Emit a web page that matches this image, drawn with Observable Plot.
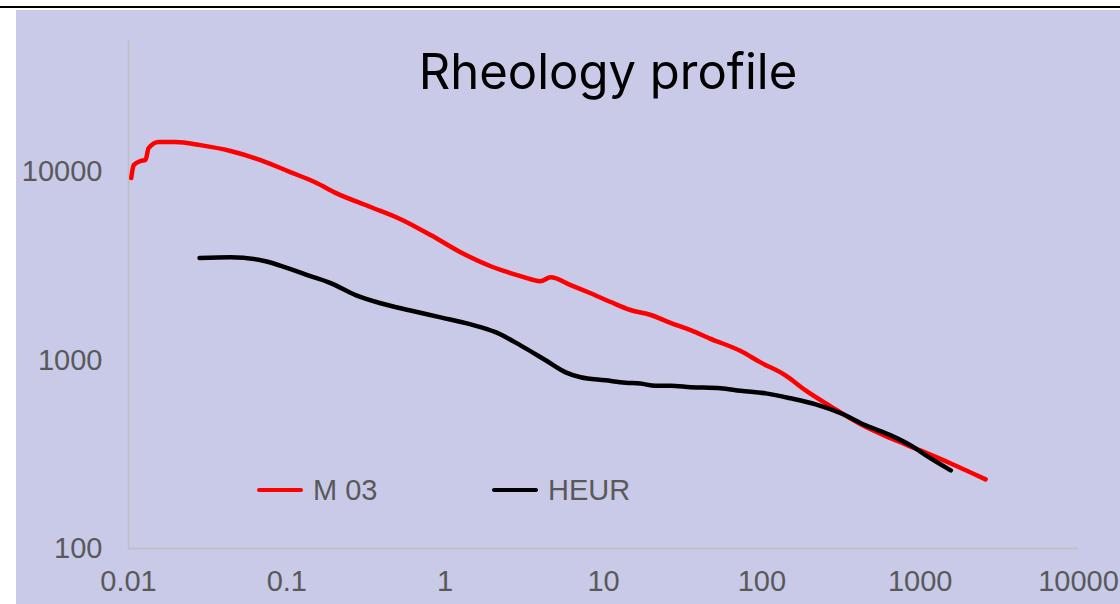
<!DOCTYPE html>
<html>
<head>
<meta charset="utf-8">
<script src="https://cdn.jsdelivr.net/npm/d3@7"></script>
<script src="https://cdn.jsdelivr.net/npm/@observablehq/plot@0.6"></script>
<style>
  html, body { margin: 0; padding: 0; background: #ffffff; width: 1120px; height: 604px; overflow: hidden; }
  #topline { position: absolute; left: 0; top: 6px; width: 1120px; height: 2px; background: #000; }
  #panel { position: absolute; left: 16px; top: 10px; width: 1104px; height: 594px; background: #C9CAE8; }
  #chart { position: absolute; left: 0; top: 0; }
  #title { position: absolute; left: 0; width: 1216px; top: 42px; text-align: center; font-family: Inter, "Open Sans", sans-serif; font-size: 49px; color: #000; }
  .leg { position: absolute; top: 472px; font-family: "Liberation Sans", Arial, sans-serif; font-size: 29px; color: #595959; display: flex; align-items: center; height: 36px; }
  .leg span.sw { display: inline-block; width: 46px; height: 4px; border-radius: 2px; margin-right: 10px; }
</style>
</head>
<body>
<div id="topline"></div>
<div id="panel"></div>
<div id="chart"></div>
<div id="title">Rheology profile</div>
<div class="leg" style="left:257px"><span class="sw" style="background:#FF0000"></span>M 03</div>
<div class="leg" style="left:492px"><span class="sw" style="background:#000000"></span>HEUR</div>
<script>
// Series names
const seriesNames = ["M 03", "HEUR"];

// M 03 (red): shear rate, viscosity
const m03X = [0.0104, 0.0108, 0.0119, 0.0128, 0.0134, 0.0155, 0.0198, 0.0285, 0.0441, 0.0682, 0.105, 0.152, 0.203, 0.338, 0.523, 0.809, 1.25, 1.94, 2.99, 4.0, 4.63, 6.2, 8.3, 11.1, 14.8, 19.9, 26.5, 35.5, 47.5, 73.5, 98, 141, 189, 272, 421, 652, 1000, 1560, 2590];
const m03Y = [9290, 10900, 11450, 11600, 13400, 14450, 14450, 13900, 12940, 11580, 10000, 8800, 7750, 6520, 5620, 4630, 3750, 3160, 2800, 2630, 2760, 2510, 2270, 2040, 1850, 1740, 1580, 1445, 1300, 1120, 975, 832, 692, 569, 457, 385, 332, 283, 233];

// HEUR (black)
const heurX = [0.0281, 0.0441, 0.0733, 0.098, 0.141, 0.189, 0.272, 0.391, 0.604, 0.935, 1.45, 2.08, 2.99, 4.31, 5.77, 7.17, 10.3, 13.8, 17.1, 21.3, 26.5, 35.5, 54.9, 73.5, 106, 152, 219, 315, 453, 652, 871, 1165, 1560];
const heurY = [3490, 3530, 3360, 3120, 2800, 2570, 2220, 2010, 1840, 1690, 1550, 1410, 1200, 1000, 863, 812, 783, 760, 752, 732, 732, 720, 710, 688, 667, 628, 583, 523, 451, 399, 353, 301, 260];

// Axis ticks
const xTicks = [0.01, 0.1, 1, 10, 100, 1000, 10000];
const xTickLabels = ["0.01", "0.1", "1", "10", "100", "1000", "10000"];
const yTicks = [100, 1000, 10000];
const yTickLabels = ["100", "1000", "10000"];

const m03 = m03X.map((x, i) => ({x, y: m03Y[i], s: seriesNames[0]}));
const heur = heurX.map((x, i) => ({x, y: heurY[i], s: seriesNames[1]}));

const plot = Plot.plot({
  width: 1120,
  height: 604,
  marginLeft: 128,
  marginRight: 42,
  marginTop: 40,
  marginBottom: 56,
  style: {background: "transparent", fontFamily: "'Liberation Sans', Arial, sans-serif", fontSize: "29px", color: "#595959", overflow: "visible"},
  x: {type: "log", domain: [0.01, 10000]},
  y: {type: "log", domain: [100, 50000]},
  marks: [
    Plot.ruleX([0.01], {y1: 100, y2: 50000, stroke: "#BFBFBF", strokeWidth: 1.5}),
    Plot.ruleY([100], {x1: 0.01, x2: 10000, stroke: "#BFBFBF", strokeWidth: 1.5}),
    Plot.axisX({ticks: xTicks, tickSize: 0, tickPadding: 22, tickFormat: d => xTickLabels[xTicks.indexOf(d)], label: null, fill: "#595959", fontSize: 29}),
    Plot.axisY({ticks: yTicks, tickSize: 0, tickPadding: 26, tickFormat: d => yTickLabels[yTicks.indexOf(d)], label: null, fill: "#595959", fontSize: 29}),
    Plot.line(m03, {x: "x", y: "y", stroke: "#FF0000", strokeWidth: 4.5, curve: "monotone-x", strokeLinecap: "round", strokeLinejoin: "round"}),
    Plot.line(heur, {x: "x", y: "y", stroke: "#000000", strokeWidth: 4.5, curve: "monotone-x", strokeLinecap: "round", strokeLinejoin: "round"})
  ]
});
document.getElementById("chart").appendChild(plot);
</script>
</body>
</html>
